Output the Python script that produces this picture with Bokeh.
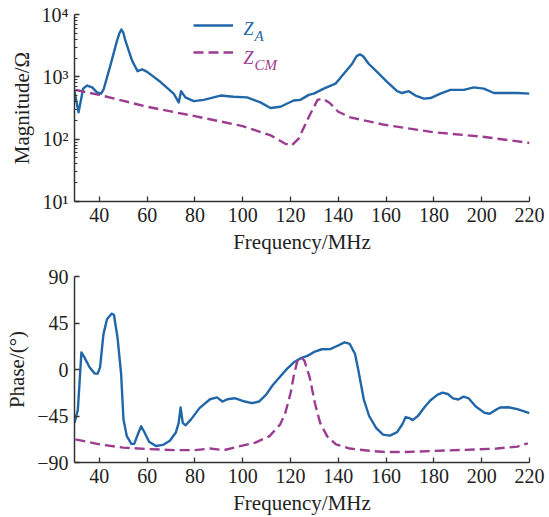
from bokeh.plotting import figure
from bokeh.layouts import column
from bokeh.models import (FixedTicker, CustomJSTickFormatter, Legend, LegendItem, Label)
from bokeh.embed import file_html
from bokeh.resources import INLINE

# ---------------- data ----------------
freq_za_mag = [29.6, 31.3, 33.2, 34.9, 37, 39, 40.7, 41.8, 44.6, 47.4, 48.4, 49.2, 50.1, 50.9, 53.7, 56,
               57.9, 60, 65.5, 71.1, 73.2, 74.2, 76, 79.5, 83.7, 90.7, 96.2, 101.8, 107.4, 111.6,
               115.8, 121.3, 124.1, 127.6, 129.7, 133.9, 138.8, 142.3, 145.8, 147.6, 149, 150.4,
               152.7, 156.2, 160.4, 164.6, 166.7, 169.5, 172.3, 175.8, 178.6, 182.7, 186.9, 192.5,
               196.7, 200.9, 205.1, 210.7, 215, 220]
za_mag = [589, 269, 646, 724, 676, 562, 537, 631, 1514, 3802, 5012, 5754, 5012, 3802, 1820, 1230,
          1318, 1202, 832, 537, 389, 589, 468, 407, 427, 501, 479, 468, 389, 316,
          331, 417, 427, 513, 537, 646, 776, 1122, 1622, 2138, 2291, 2138,
          1622, 1202, 832, 589, 550, 589, 501, 447, 457, 537, 617, 617,
          676, 646, 550, 550, 550, 537]

freq_zcm_mag = [30, 40, 60, 80, 100, 111.7, 117.6, 120.4, 123.4, 127.7, 131.3, 133.5, 136.4, 140,
                145, 159.3, 180, 200, 220]
zcm_mag = [617, 513, 331, 234, 162, 115, 85, 79, 102, 229, 427, 447, 380, 275,
           224, 170, 129, 110, 87]

freq_za_ph = [29.6, 31, 32.5, 33.7, 35.9, 38.1, 39.3, 40.3, 41.7, 43.2, 45.1, 46.1, 47.6, 49.1, 50.1,
              51.5, 53.4, 54.6, 56.4, 57.5, 58.6, 60.8, 63.7, 66.6, 69.5, 72, 73.2, 74, 74.9, 76.1,
              78.3, 81.9, 86.3, 89.2, 91.5, 93.6, 96.6, 100.9, 103.8, 106.8, 109.7, 112.6, 115.6,
              118.5, 121.4, 124.4, 127.3, 130.2, 133.1, 136.8, 139.7, 142.6, 144.8, 147, 148.4,
              150.7, 152.9, 155.8, 158.7, 161.6, 164.6, 166.8, 168.2, 169.7, 171.1, 173.3, 176.3,
              178.5, 181.4, 183.6, 185.8, 188, 190.2, 192.4, 194.6, 197.5, 201.2, 203.3, 205.5,
              207.7, 211.2, 214.9, 220]
za_ph = [-51.7, -39, 16.6, 12, 2.2, -4, -4, 2, 34, 48.6, 54, 53, 31, -4, -48.5,
         -64.5, -72, -72, -61, -55, -59.5, -70, -74, -73, -69, -61, -51.7, -36.7, -51.7, -54,
         -48.5, -37.4, -28.8, -27, -31, -28.8, -27.8, -31, -32.6, -31, -24.6, -15, -7,
         0.6, 7, 11, 13.4, 17.4, 19.6, 19.9, 23, 26.3, 24.7, 15, -1,
         -29.5, -45, -56.5, -63, -64, -60.6, -53, -46, -47, -49, -45, -35.8,
         -30, -24.6, -22.4, -23.7, -28, -29, -26.3, -28, -35.8, -42, -42.8, -39.6,
         -36.8, -36.5, -38.4, -42.2]

freq_zcm_ph = [30, 40, 50, 60, 71.7, 80, 86.3, 92.2, 98, 105.3, 111.2, 115.6, 117.8, 120, 121.4,
               122.9, 124.4, 125.8, 128, 130.2, 132.4, 135.3, 139, 144.8, 153.6, 159.4, 168.2,
               180, 193, 206.3, 214.9, 219.3]
zcm_ph = [-67.6, -72.4, -75.6, -77, -78, -78, -76.5, -78, -74.6, -70.7, -64.5, -53.4, -42.2, -23,
          -5.7, 8.6, 11.8, 8.6, -7.3, -32.6, -51.7, -64.5, -72.4, -76.5, -78.8, -79.8, -79.8,
          -78.8, -77.8, -76.5, -74.6, -71.4]

x_ticks = [40, 60, 80, 100, 120, 140, 160, 180, 200, 220]
mag_ticks = [10, 100, 1000, 10000]
phase_ticks = [-90, -45, 0, 45, 90]

# ---------------- style ----------------
BLUE = "#2167a8"
PURPLE = "#9b3c90"
AXIS = "#333333"
FONT = "Liberation Serif"
FS_TICK = "20px"
FS_LABEL = "21px"


def style_axes(p):
    p.outline_line_color = None
    p.xgrid.visible = False
    p.ygrid.visible = False
    p.background_fill_color = "white"
    p.border_fill_color = "white"
    for ax in (p.xaxis[0], p.yaxis[0]):
        ax.axis_line_color = AXIS
        ax.axis_line_width = 1.5
        ax.major_tick_line_color = AXIS
        ax.major_tick_line_width = 1.3
        ax.minor_tick_line_color = AXIS
        ax.major_tick_in = 5
        ax.major_tick_out = 0
        ax.minor_tick_in = 3
        ax.minor_tick_out = 0
        ax.major_label_text_font = FONT
        ax.major_label_text_font_size = FS_TICK
        ax.major_label_text_color = "#222222"
        ax.axis_label_text_font = FONT
        ax.axis_label_text_font_size = FS_LABEL
        ax.axis_label_text_font_style = "normal"
        ax.axis_label_text_color = "#222222"
        ax.major_label_standoff = 6
        ax.axis_label_standoff = 5
    p.xaxis[0].ticker = FixedTicker(ticks=x_ticks)
    p.xaxis[0].minor_tick_line_color = None
    p.xaxis[0].axis_label = "Frequency/MHz"


# ---------------- top: magnitude ----------------
p1 = figure(width=549, height=258, x_range=(29.6, 220), y_range=(10, 10000),
            y_axis_type="log", output_backend="svg", toolbar_location=None,
            min_border_left=74, min_border_right=20, min_border_top=14, min_border_bottom=57)
style_axes(p1)
minor = []
for m in mag_ticks[:-1]:
    minor += [m * k for k in range(2, 10)]
p1.yaxis[0].ticker = FixedTicker(ticks=mag_ticks, minor_ticks=minor)
p1.yaxis[0].formatter = CustomJSTickFormatter(code="""
const sup = {1: '\u00b9', 2: '\u00b2', 3: '\u00b3', 4: '\u2074'};
const e = Math.round(Math.log10(tick));
return '10' + sup[e];
""")
p1.yaxis[0].axis_label = "Magnitude/\u03a9"

r1 = p1.line(freq_za_mag, za_mag, line_color=BLUE, line_width=2.4, line_join="round")
r2 = p1.line(freq_zcm_mag, zcm_mag, line_color=PURPLE, line_width=2.4, line_dash="10 5")

legend = Legend(items=[LegendItem(label=" ", renderers=[r1]),
                       LegendItem(label=" ", renderers=[r2])],
                location=(119, 139), orientation="vertical",
                glyph_width=40, glyph_height=20, label_width=0, label_height=20,
                label_standoff=0, padding=0, spacing=7, margin=0,
                border_line_color=None, background_fill_color=None,
                label_text_font_size="10px")
p1.add_layout(legend)

def leg_label(text, x, y, color, size):
    return Label(x=x, y=y, x_units="screen", y_units="screen", text=text,
                 text_font=FONT, text_font_style="italic", text_font_size=size,
                 text_color=color, text_baseline="alphabetic", text_align="left")

p1.add_layout(leg_label("Z", 169, 173, BLUE, "18px"))
p1.add_layout(leg_label("A", 180, 166, BLUE, "15px"))
p1.add_layout(leg_label("Z", 169, 144, PURPLE, "18px"))
p1.add_layout(leg_label("CM", 180, 137, PURPLE, "15px"))

# ---------------- bottom: phase ----------------
p2 = figure(width=549, height=259, x_range=(29.6, 220), y_range=(-90, 90),
            output_backend="svg", toolbar_location=None,
            min_border_left=74, min_border_right=20, min_border_top=18, min_border_bottom=53)
style_axes(p2)
p2.yaxis[0].ticker = FixedTicker(ticks=phase_ticks)
p2.yaxis[0].minor_tick_line_color = None
p2.yaxis[0].formatter = CustomJSTickFormatter(code="return String(tick).replace('-', '\u2212');")
p2.yaxis[0].axis_label = "Phase/(\u00b0)"

p2.line(freq_za_ph, za_ph, line_color=BLUE, line_width=2.4, line_join="round")
p2.line(freq_zcm_ph, zcm_ph, line_color=PURPLE, line_width=2.4, line_dash="10 5")

layout = column(p1, p2, spacing=0)
open("out.html", "w").write(file_html(layout, INLINE))
